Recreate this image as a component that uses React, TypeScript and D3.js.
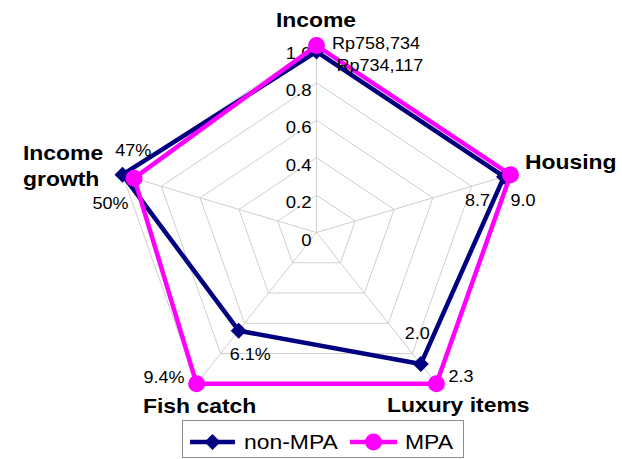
import React from "react";
import * as d3 from "d3";

// Radar axes, clockwise from the top
const axes = ["Income", "Housing", "Luxury items", "Fish catch", "Income growth"];
// Raw indicator values per group
const nonMpaValues = [734117, 8.7, 2.0, 6.1, 50];
const mpaValues = [758734, 9.0, 2.3, 9.4, 47];
// Value labels shown next to each vertex
const nonMpaLabels = ["Rp734,117", "8.7", "2.0", "6.1%", "50%"];
const mpaLabels = ["Rp758,734", "9.0", "2.3", "9.4%", "47%"];
// Radial axis ticks (values are scaled to the larger group on each axis)
const ticks = [0, 0.2, 0.4, 0.6, 0.8, 1.0];

const W = 622;
const H = 459;
const CX = 316.5;
const CY = 232.5;
const RX = 204;
const RY = 187;
const SX = RX / RY;
const FONT = "'Liberation Sans', Arial, Helvetica, sans-serif";
const NAVY = "#000080";
const MAGENTA = "#FF00FF";

// label offsets [dx, dy, anchor] relative to each vertex
const nonMpaLabelPos: [number, number, string][] = [
  [20, 19.5, "start"],
  [-14, 29, "end"],
  [9, -25, "end"],
  [-9, 29, "start"],
  [6, 34, "end"],
];
const mpaLabelPos: [number, number, string][] = [
  [15.5, 3.5, "start"],
  [0, 31, "start"],
  [12, -2, "start"],
  [-12, -1, "end"],
  [-19, -22, "start"],
];

// axis title placement
const axisTitlePos: { x: number; y: number; anchor: string; lines: string[] }[] = [
  { x: 316, y: 27, anchor: "middle", lines: ["Income"] },
  { x: 525, y: 169, anchor: "start", lines: ["Housing"] },
  { x: 387, y: 412, anchor: "start", lines: ["Luxury items"] },
  { x: 143, y: 413, anchor: "start", lines: ["Fish catch"] },
  { x: 23, y: 160, anchor: "start", lines: ["Income", "growth"] },
];

const rX = d3.scaleLinear().domain([0, 1]).range([0, RX]);
const rY = d3.scaleLinear().domain([0, 1]).range([0, RY]);
const angle = d3
  .scaleLinear()
  .domain([0, axes.length])
  .range([0, 2 * Math.PI]);

const pt = (i: number, v: number): [number, number] => {
  const a = angle(i);
  return [CX + rX(v) * Math.sin(a), CY - rY(v) * Math.cos(a)];
};

const maxes = axes.map((_, i) => Math.max(nonMpaValues[i], mpaValues[i]));
const nonMpaNorm = nonMpaValues.map((v, i) => v / maxes[i]);
const mpaNorm = mpaValues.map((v, i) => v / maxes[i]);

const closedLine = d3
  .line<[number, number]>()
  .x((d) => d[0])
  .y((d) => d[1])
  .curve(d3.curveLinearClosed);

const Txt = ({
  x,
  y,
  anchor = "start",
  size,
  bold = false,
  children,
}: {
  x: number;
  y: number;
  anchor?: string;
  size: number;
  bold?: boolean;
  children: React.ReactNode;
}) => (
  <text
    transform={`translate(${x},${y}) scale(${SX},1)`}
    textAnchor={anchor as any}
    fontFamily={FONT}
    fontSize={size}
    fontWeight={bold ? "bold" : "normal"}
    fill="#000"
  >
    {children}
  </text>
);

const Diamond = ({ x, y, r = 8 }: { x: number; y: number; r?: number }) => (
  <path d={`M${x},${y - r}L${x + r},${y}L${x},${y + r}L${x - r},${y}Z`} fill={NAVY} />
);

export default function App() {
  const nonPts = nonMpaNorm.map((v, i) => pt(i, v));
  const mpaPts = mpaNorm.map((v, i) => pt(i, v));

  return (
    <div style={{ position: "absolute", left: 0, top: 0 }}>
      <svg width={W} height={H} style={{ display: "block", background: "#fff" }}>
        {/* grid rings */}
        {ticks
          .filter((t) => t > 0)
          .map((t) => (
            <path
              key={t}
              d={closedLine(axes.map((_, i) => pt(i, t))) as string}
              fill="none"
              stroke="#cfcfcf"
              strokeWidth={1}
            />
          ))}
        {/* spokes */}
        {axes.map((a, i) => {
          const [x, y] = pt(i, 1);
          return <line key={a} x1={CX} y1={CY} x2={x} y2={y} stroke="#cfcfcf" strokeWidth={1} />;
        })}
        {/* radial tick labels */}
        {ticks.map((t) => (
          <Txt key={t} x={CX - 5} y={CY - rY(t) + 13} anchor="end" size={17}>
            {t === 0 ? "0" : t.toFixed(1)}
          </Txt>
        ))}

        {/* non-MPA series */}
        <path d={closedLine(nonPts) as string} fill="none" stroke={NAVY} strokeWidth={4.5} strokeLinejoin="round" />
        {nonPts.map(([x, y], i) => (
          <Diamond key={i} x={x} y={y} />
        ))}
        {/* MPA series */}
        <path d={closedLine(mpaPts) as string} fill="none" stroke={MAGENTA} strokeWidth={4.5} strokeLinejoin="round" />
        {mpaPts.map(([x, y], i) => (
          <circle key={i} cx={x} cy={y} r={8.5} fill={MAGENTA} />
        ))}

        {/* value labels */}
        {nonPts.map(([x, y], i) => (
          <Txt key={"n" + i} x={x + nonMpaLabelPos[i][0]} y={y + nonMpaLabelPos[i][1]} anchor={nonMpaLabelPos[i][2]} size={16.5}>
            {nonMpaLabels[i]}
          </Txt>
        ))}
        {mpaPts.map(([x, y], i) => (
          <Txt key={"m" + i} x={x + mpaLabelPos[i][0]} y={y + mpaLabelPos[i][1]} anchor={mpaLabelPos[i][2]} size={16.5}>
            {mpaLabels[i]}
          </Txt>
        ))}

        {/* axis titles */}
        {axisTitlePos.map((p, i) => (
          <g key={axes[i]}>
            {p.lines.map((ln, k) => (
              <Txt key={k} x={p.x} y={p.y + k * 26} anchor={p.anchor} size={21} bold>
                {ln}
              </Txt>
            ))}
          </g>
        ))}

        {/* legend */}
        <g>
          <rect x={182.5} y={420.5} width={281} height={37} fill="#fff" stroke="#8c8c8c" strokeWidth={1} />
          <line x1={190} x2={235} y1={442} y2={442} stroke={NAVY} strokeWidth={4.5} />
          <Diamond x={212.5} y={442} />
          <Txt x={244} y={449} size={21}>
            non-MPA
          </Txt>
          <line x1={350} x2={397} y1={442} y2={442} stroke={MAGENTA} strokeWidth={4.5} />
          <circle cx={373.5} cy={442} r={8.5} fill={MAGENTA} />
          <Txt x={405} y={449} size={21}>
            MPA
          </Txt>
        </g>
      </svg>
    </div>
  );
}
